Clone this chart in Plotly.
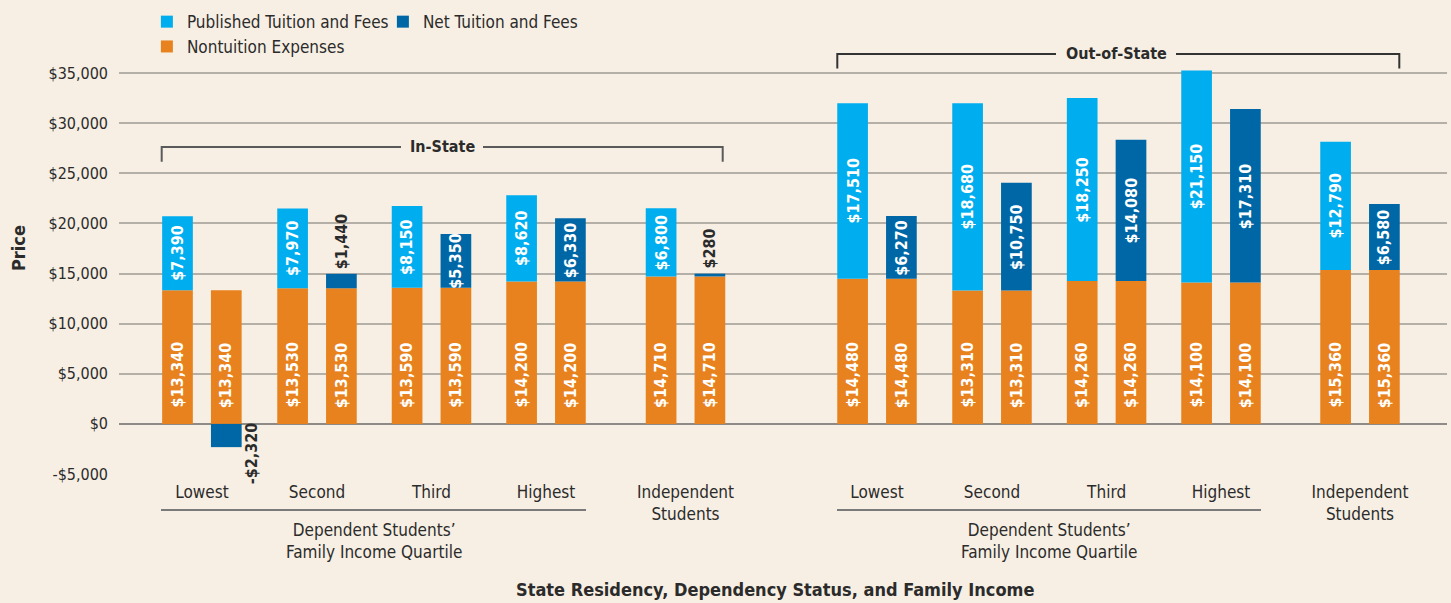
import plotly.graph_objects as go

# ---------------- data ----------------
group_labels = ["Lowest", "Second", "Third", "Highest", "Independent<br>Students"]
in_nontuition = [13340, 13530, 13590, 14200, 14710]
in_published = [7390, 7970, 8150, 8620, 6800]
in_net = [-2320, 1440, 5350, 6330, 280]
out_nontuition = [14480, 13310, 14260, 14100, 15360]
out_published = [17510, 18680, 18250, 21150, 12790]
out_net = [6270, 10750, 14080, 17310, 6580]
y_ticks = [-5000, 0, 5000, 10000, 15000, 20000, 25000, 30000, 35000]

# ---------------- layout constants ----------------
group_centres = [201.9, 317.0, 431.5, 546.0, 685.5, 877.0, 992.0, 1106.6, 1221.0, 1360.0]
pair_offset = 24.4
bar_width = 30.7

C_PUB = "#00aeef"
C_NET = "#0067a6"
C_NON = "#e8821e"
BG = "#f7efe3"
TXT = "#2b2b2b"
FONT = "Liberation Sans Narrow, DejaVu Sans Condensed, Roboto Condensed, Liberation Sans, Arial"

pub_x = [c - pair_offset for c in group_centres]
net_x = [c + pair_offset for c in group_centres]
nontuition = in_nontuition + out_nontuition
published = in_published + out_published
net = in_net + out_net


def money(v):
    return ("-$" if v < 0 else "$") + f"{abs(v):,}"


fig = go.Figure()
fig.add_trace(go.Bar(x=pub_x + net_x, y=nontuition + nontuition, width=bar_width,
                     marker=dict(color=C_NON, line=dict(width=0)),
                     name="Nontuition Expenses", legend="legend2", hoverinfo="skip"))
fig.add_trace(go.Bar(x=pub_x, y=published, width=bar_width,
                     marker=dict(color=C_PUB, line=dict(width=0)),
                     name="Published Tuition and Fees", legend="legend", hoverinfo="skip"))
fig.add_trace(go.Bar(x=net_x, y=net, width=bar_width,
                     marker=dict(color=C_NET, line=dict(width=0)),
                     name="Net Tuition and Fees", legend="legend", hoverinfo="skip"))

ann = []
lab_font = dict(family=FONT, size=16, color="white", weight="bold")
dark_font = dict(family=FONT, size=16, color=TXT, weight="bold")

# nontuition labels (bottom of bars)
for x, v in zip(pub_x + net_x, nontuition + nontuition):
    ann.append(dict(x=x, y=0, xref="x", yref="y", text=money(v), textangle=-90,
                    showarrow=False, yanchor="bottom", xanchor="center", yshift=14,
                    font=lab_font))
# published labels (centre of segment)
for x, base, v in zip(pub_x, nontuition, published):
    ann.append(dict(x=x, y=base + v / 2, xref="x", yref="y", text=money(v), textangle=-90,
                    showarrow=False, yanchor="middle", xanchor="center", font=lab_font))
# net labels
for x, base, v in zip(net_x, nontuition, net):
    if v < 0:
        ann.append(dict(x=x, y=0, xref="x", yref="y", text=money(v), textangle=-90,
                        showarrow=False, yanchor="top", xanchor="center", xshift=26, yshift=4,
                        font=dark_font))
    elif v < 2000:
        ann.append(dict(x=x, y=base + v, xref="x", yref="y", text=money(v), textangle=-90,
                        showarrow=False, yanchor="bottom", xanchor="center", yshift=3,
                        font=dark_font))
    else:
        ann.append(dict(x=x, y=base + v / 2, xref="x", yref="y", text=money(v), textangle=-90,
                        showarrow=False, yanchor="middle", xanchor="center", font=lab_font))

# bracket labels
ann.append(dict(x=442, y=27630, xref="x", yref="y", text="In-State", showarrow=False,
                font=dict(family=FONT, size=16, color=TXT, weight="bold")))
ann.append(dict(x=1116, y=36910, xref="x", yref="y", text="Out-of-State", showarrow=False,
                font=dict(family=FONT, size=16, color=TXT, weight="bold")))
# group sub-labels
for xc in [373.5, 1049]:
    ann.append(dict(x=xc, y=-0.0976, xref="x", yref="paper", yanchor="top",
                    text="Dependent Students’<br>Family Income Quartile", showarrow=False,
                    font=dict(family=FONT, size=17, color=TXT)))
# axis titles
ann.append(dict(x=0.494, y=-0.2572, xref="paper", yref="paper", yanchor="middle", xanchor="center",
                text="State Residency, Dependency Status, and Family Income", showarrow=False,
                font=dict(family=FONT, size=18, color=TXT, weight="bold")))
ann.append(dict(x=-0.076, y=0.501, xref="paper", yref="paper", textangle=-90,
                xanchor="center", yanchor="middle",
                text="Price", showarrow=False,
                font=dict(family=FONT, size=18, color=TXT, weight="bold")))

shapes = []
br = dict(type="path", xref="x", yref="y")
# In-State bracket
shapes.append(dict(br, path="M 161.7,26160 L 161.7,27630 L 401,27630", line=dict(color="#5a5a5a", width=2)))
shapes.append(dict(br, path="M 483,27630 L 722.7,27630 L 722.7,26160", line=dict(color="#5a5a5a", width=2)))
# Out-of-State bracket
shapes.append(dict(br, path="M 837.3,35460 L 837.3,36910 L 1056,36910", line=dict(color="#333333", width=2)))
shapes.append(dict(br, path="M 1176,36910 L 1399.3,36910 L 1399.3,35460", line=dict(color="#333333", width=2)))
# underlines
for x0, x1 in [(161, 586), (837, 1261)]:
    shapes.append(dict(type="line", xref="x", yref="paper", x0=x0, x1=x1, y0=-0.0798, y1=-0.0798,
                       line=dict(color="#7a7a7a", width=2)))

fig.update_layout(
    width=1451, height=603,
    margin=dict(l=119, r=4, t=23, b=129),
    paper_bgcolor=BG, plot_bgcolor=BG,
    barmode="relative",
    font=dict(family=FONT, size=17, color=TXT),
    annotations=ann, shapes=shapes,
    showlegend=True,
    legend=dict(orientation="h", x=0.021, y=1.002, xanchor="left", yanchor="middle",
                bgcolor="rgba(0,0,0,0)", font=dict(family=FONT, size=17, color=TXT),
                traceorder="normal", entrywidth=191, itemwidth=30),
    legend2=dict(orientation="h", x=0.021, y=0.947, xanchor="left", yanchor="middle",
                 bgcolor="rgba(0,0,0,0)", font=dict(family=FONT, size=17, color=TXT), itemwidth=30),
    xaxis=dict(range=[119, 1447], showgrid=False, zeroline=False, showline=False,
               tickvals=group_centres, ticktext=group_labels + group_labels,
               ticks="", ticklabelstandoff=6, tickfont=dict(family=FONT, size=17, color=TXT),
               fixedrange=True),
    yaxis=dict(range=[-5000, 40000], tickvals=y_ticks, ticktext=[money(v) for v in y_ticks],
               showgrid=True, gridcolor="#b4afa7", gridwidth=1.5,
               zeroline=True, zerolinecolor="#8e8b86", zerolinewidth=2,
               showline=False, ticks="", ticklabelstandoff=10,
               tickfont=dict(family=FONT, size=16, color=TXT), fixedrange=True),
)

fig.write_html("out.html",
               config={"displayModeBar": False},
               post_script="document.body.style.margin='0px';"
                           "document.body.style.background='" + BG + "';")
